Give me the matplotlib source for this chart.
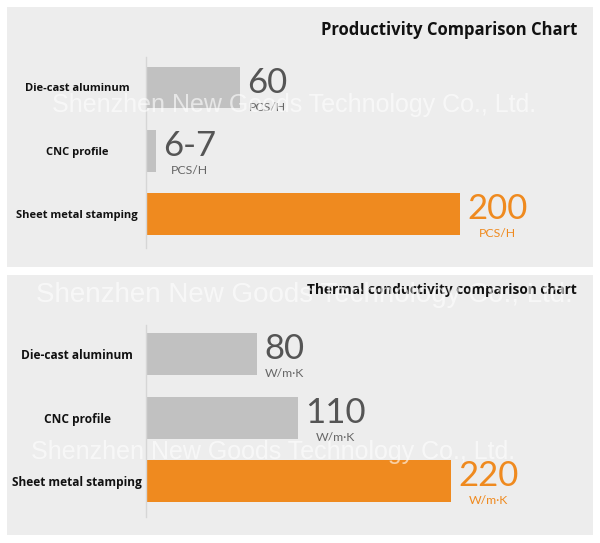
import matplotlib
matplotlib.use('Agg')
from matplotlib import pyplot as plt
from matplotlib.patches import Rectangle

# chart data
categories = ['Die-cast aluminum', 'CNC profile', 'Sheet metal stamping']
prod_values = [60, 6.5, 200]
prod_labels = ['60', '6-7', '200']
prod_unit = 'PCS/H'
thermal_values = [80, 110, 220]
thermal_labels = ['80', '110', '220']
thermal_unit = 'W/m\u00b7K'
titles = ['Productivity Comparison Chart', 'Thermal conductivity comparison chart']
watermark = 'Shenzhen New Goods Technology Co., Ltd.'

W, H = 600, 543
PANEL = '#ededed'
GREY = '#c1c1c1'
ORANGE = '#ef8a1f'
NUM_GREY = '#555555'


def fx(px):
    return px / W


def fy(py):
    return 1 - py / H


fig = plt.figure(figsize=(W / 100, H / 100), dpi=100)
fig.patch.set_facecolor('white')

# grey panels
for top, bottom in [(7, 267), (275, 535)]:
    fig.patches.append(Rectangle((fx(7), fy(bottom)), fx(593) - fx(7),
                                 fy(top) - fy(bottom), transform=fig.transFigure,
                                 facecolor=PANEL, edgecolor='none', zorder=-5))


def panel(box, values, labels, unit, px_per_unit, ylim, label_size):
    left, top, right, bottom = box
    ax = fig.add_axes([fx(left), fy(bottom), fx(right) - fx(left), fy(top) - fy(bottom)])
    ax.set_facecolor('none')
    colors = [GREY, GREY, ORANGE]
    ypos = list(range(len(values)))
    ax.barh(ypos, values, height=0.66, color=colors, zorder=2)
    ax.set_xlim(0, (right - left) / px_per_unit)
    ax.set_ylim(*ylim)
    for s in ['top', 'right', 'bottom']:
        ax.spines[s].set_visible(False)
    ax.spines['left'].set_color('#d6d6d6')
    ax.spines['left'].set_linewidth(1.0)
    ax.set_xticks([])
    ax.set_yticks(ypos)
    ax.set_yticklabels(categories, fontsize=label_size, fontweight='bold',
                       family='Open Sans', color='#111111', ha='center')
    ax.tick_params(axis='y', length=0, pad=(left - 77) * 0.72)
    for i, (v, lab) in enumerate(zip(values, labels)):
        c = ORANGE if i == 2 else NUM_GREY
        uc = ORANGE if i == 2 else '#666666'
        num = ax.annotate(lab, xy=(v, i - 0.33), xytext=(7, -26),
                          textcoords='offset pixels', ha='left', va='baseline',
                          fontsize=25, family='Lato', fontweight='normal', color=c)
        ax.annotate(unit, xy=(0.5, 0), xycoords=num, xytext=(0, -3),
                    textcoords='offset pixels', ha='center', va='top',
                    fontsize=8.8, family='Lato', color=uc)
    return ax


panel((146, 57, 592, 248), prod_values, prod_labels, prod_unit, 1.57,
      (2.53, -0.48), 8)
panel((146, 325, 592, 517), thermal_values, thermal_labels, thermal_unit, 1.386,
      (2.56, -0.455), 8.6)

fig.text(fx(577), fy(35), titles[0], ha='right', va='baseline', fontsize=12,
         fontweight='bold', family='Open Sans', color='#111111')
fig.text(fx(577), fy(294), titles[1], ha='right', va='baseline', fontsize=9.8,
         fontweight='bold', family='Open Sans', color='#111111')

# watermarks
for x, y, size in [(52, 105, 18), (36, 295, 20), (31, 452, 18)]:
    fig.text(fx(x), fy(y), watermark, ha='left', va='center', fontsize=size,
             family='Liberation Sans', color='white', alpha=0.6, zorder=10)

fig.savefig('out.png', dpi=100)
